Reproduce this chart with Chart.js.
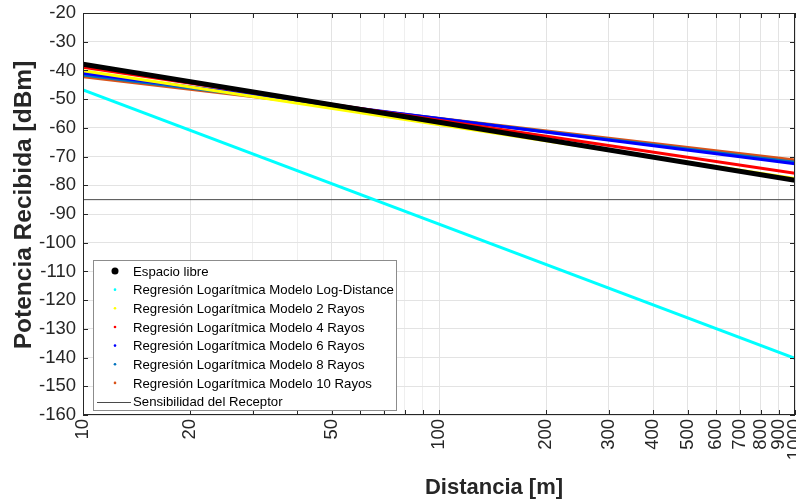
<!DOCTYPE html>
<html>
<head>
<meta charset="utf-8">
<script src="https://cdn.jsdelivr.net/npm/chart.js@4"></script>
<style>
body { margin: 0; background: #fff; }
#wrap { width: 796px; height: 502px; }
</style>
</head>
<body>
<div id="wrap"><canvas id="chart" width="796" height="502"></canvas></div>
<script>
// distancias [m] (extremos de cada regresión, recta en eje log)
const distances = [10, 1000]
const espacioLibre = [-37.8, -78.3]
const logDistance = [-46.8, -140.3]
const rayos2 = [-40.1, -77.6]
const rayos4 = [-38.9, -75.8]
const rayos6 = [-41.0, -72.5]
const rayos8 = [-41.6, -72.0]
const rayos10 = [-42.2, -71.2]
const sensibilidad = [-85, -85]

const xGridValues = [10, 20, 30, 40, 50, 60, 70, 80, 90, 100, 200, 300, 400, 500, 600, 700, 800, 900, 1000]
const xTickLabels = [10, 20, 50, 100, 200, 300, 400, 500, 600, 700, 800, 900, 1000]
const yTickValues = [-160, -150, -140, -130, -120, -110, -100, -90, -80, -70, -60, -50, -40, -30, -20]

const FONT = "Arial, 'Liberation Sans', sans-serif"
const AXIS_COLOR = "#262626"

function toPoints(values) {
    return distances.map((d, i) => ({ x: d, y: values[i] }))
}

function series(label, values, color, width, marker) {
    return {
        label: label,
        data: toPoints(values),
        borderColor: color,
        backgroundColor: color,
        borderWidth: width,
        pointRadius: 0,
        legendMarker: marker
    }
}

const datasets = [
    series("Espacio libre", espacioLibre, "#000000", 5, "bigdot"),
    series("Regresión Logarítmica Modelo Log-Distance", logDistance, "#00ffff", 3, "dot"),
    series("Regresión Logarítmica Modelo 2 Rayos", rayos2, "#ffff00", 3, "dot"),
    series("Regresión Logarítmica Modelo 4 Rayos", rayos4, "#ff0000", 3, "dot"),
    series("Regresión Logarítmica Modelo 6 Rayos", rayos6, "#0000ff", 3, "dot"),
    series("Regresión Logarítmica Modelo 8 Rayos", rayos8, "#0072bd", 3, "dot"),
    series("Regresión Logarítmica Modelo 10 Rayos", rayos10, "#d95319", 3, "dot"),
    series("Sensibilidad del Receptor", sensibilidad, "#4a4a4a", 1, "line")
]

const framePlugin = {
    id: "framePlugin",
    afterDatasetsDraw(chart) {
        const ctx = chart.ctx
        const a = chart.chartArea
        const xs = chart.scales.x
        const ys = chart.scales.y

        ctx.save()

        // marco y marcas hacia dentro
        ctx.strokeStyle = AXIS_COLOR
        ctx.lineWidth = 1
        ctx.beginPath()
        xGridValues.forEach(v => {
            const px = Math.round(xs.getPixelForValue(v)) + 0.5
            ctx.moveTo(px, a.top)
            ctx.lineTo(px, a.top + 5)
            ctx.moveTo(px, a.bottom)
            ctx.lineTo(px, a.bottom - 5)
        })
        yTickValues.forEach(v => {
            const py = Math.round(ys.getPixelForValue(v)) + 0.5
            ctx.moveTo(a.left, py)
            ctx.lineTo(a.left + 5, py)
            ctx.moveTo(a.right, py)
            ctx.lineTo(a.right - 5, py)
        })
        ctx.stroke()
        ctx.strokeRect(a.left + 0.5, a.top + 0.5, a.right - a.left - 1, a.bottom - a.top - 1)

        // leyenda
        const boxL = a.left + 10
        const boxT = a.bottom - 155
        const boxW = 303
        const boxH = 150
        const rowH = 18.65
        ctx.fillStyle = "#ffffff"
        ctx.fillRect(boxL, boxT, boxW, boxH)
        ctx.strokeStyle = "#8c8c8c"
        ctx.strokeRect(boxL + 0.5, boxT + 0.5, boxW, boxH)

        ctx.font = "13.2px " + FONT
        ctx.textBaseline = "middle"
        ctx.textAlign = "left"
        chart.data.datasets.forEach((ds, i) => {
            const cy = boxT + 11 + i * rowH
            const mx = boxL + 22
            if (ds.legendMarker === "bigdot") {
                ctx.fillStyle = ds.borderColor
                ctx.beginPath()
                ctx.arc(mx, cy, 3.5, 0, Math.PI * 2)
                ctx.fill()
            } else if (ds.legendMarker === "dot") {
                ctx.fillStyle = ds.borderColor
                ctx.beginPath()
                ctx.arc(mx, cy, 1.3, 0, Math.PI * 2)
                ctx.fill()
            } else {
                ctx.strokeStyle = ds.borderColor
                ctx.beginPath()
                ctx.moveTo(boxL + 4, Math.round(cy) + 0.5)
                ctx.lineTo(boxL + 38, Math.round(cy) + 0.5)
                ctx.stroke()
            }
            ctx.fillStyle = "#000000"
            ctx.fillText(ds.label, boxL + 40, cy + 1)
        })

        // títulos de ejes
        ctx.fillStyle = AXIS_COLOR
        ctx.font = "bold 22px " + FONT
        ctx.textAlign = "center"
        ctx.fillText("Distancia [m]", (a.left + a.right) / 2 + 55, 488)

        ctx.save()
        ctx.translate(24, 205)
        ctx.rotate(-Math.PI / 2)
        ctx.font = "bold 24.5px " + FONT
        ctx.fillText("Potencia Recibida [dBm]", 0, 0)
        ctx.restore()

        ctx.restore()
    }
}

new Chart(document.getElementById("chart"), {
    type: "line",
    data: { datasets: datasets },
    options: {
        responsive: false,
        animation: false,
        layout: { padding: { top: 13, right: 1, left: 0, bottom: 0 } },
        plugins: {
            legend: { display: false },
            tooltip: { enabled: false }
        },
        scales: {
            x: {
                type: "logarithmic",
                min: 10,
                max: 1000,
                afterBuildTicks: scale => {
                    scale.ticks = xGridValues.map(v => ({ value: v }))
                },
                afterFit: scale => {
                    scale.height = 87
                    scale.paddingLeft = 0
                    scale.paddingRight = 0
                },
                ticks: {
                    autoSkip: false,
                    minRotation: 90,
                    maxRotation: 90,
                    padding: 4,
                    color: AXIS_COLOR,
                    font: { family: FONT, size: 18.5 },
                    callback: value => xTickLabels.includes(value) ? String(value) : ""
                },
                grid: {
                    drawTicks: false,
                    color: ctx => xTickLabels.includes(ctx.tick && ctx.tick.value) ? "#e3e3e3" : "#efefef"
                },
                border: { display: false }
            },
            y: {
                min: -160,
                max: -20,
                afterBuildTicks: scale => {
                    scale.ticks = yTickValues.map(v => ({ value: v }))
                },
                afterFit: scale => {
                    scale.width = 83
                    scale.paddingTop = 0
                    scale.paddingBottom = 0
                },
                ticks: {
                    padding: 7,
                    color: AXIS_COLOR,
                    font: { family: FONT, size: 18.5 }
                },
                grid: {
                    drawTicks: false,
                    color: "#e3e3e3"
                },
                border: { display: false }
            }
        }
    },
    plugins: [framePlugin]
})
</script>
</body>
</html>
